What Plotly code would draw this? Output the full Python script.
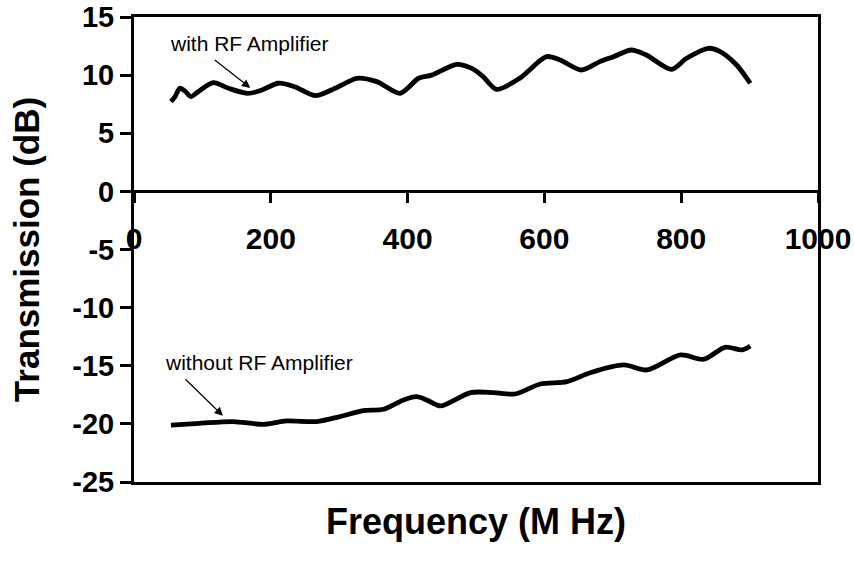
import plotly.graph_objects as go

# With RF amplifier (MHz, dB)
freq_with = [54, 60, 67, 75, 83, 94, 116, 138, 167, 187, 211, 235, 265, 294, 326, 355, 389,
             416, 435, 472, 493, 510, 530, 564, 603, 623, 654, 681, 701, 727, 749, 786, 808,
             840, 857, 881, 901]
trans_with = [7.72, 8.15, 8.87, 8.6, 8.15, 8.58, 9.35, 8.87, 8.43, 8.72, 9.3, 9.0, 8.23, 8.87,
              9.73, 9.44, 8.44, 9.73, 10.0, 10.93, 10.6, 9.9, 8.78, 9.73, 11.59, 11.3, 10.44,
              11.16, 11.59, 12.16, 11.73, 10.5, 11.45, 12.31, 12.02, 10.87, 9.3]

# Without RF amplifier (MHz, dB)
freq_without = [54, 96, 145, 189, 223, 267, 301, 335, 365, 394, 413, 428, 448, 492, 526, 557,
                594, 633, 667, 716, 750, 799, 833, 864, 889, 901]
trans_without = [-20.1, -19.95, -19.8, -20.04, -19.75, -19.8, -19.38, -18.86, -18.74, -17.94,
                 -17.66, -17.94, -18.46, -17.31, -17.31, -17.43, -16.57, -16.37, -15.6, -14.93,
                 -15.36, -14.07, -14.44, -13.41, -13.64, -13.3]

x_ticks = [0, 200, 400, 600, 800, 1000]
y_ticks = [-25, -20, -15, -10, -5, 0, 5, 10, 15]
y_tick_text = ["-25", "-20", "-15", "-10", "-5", "0", "5", "10", "15"]

FONT = "Liberation Sans, Arial, sans-serif"
W, H = 854, 561
pl, pr, pt, pb = 134, 818, 17, 482

fig = go.Figure()
for xs, ys, nm in [(freq_with, trans_with, "with RF Amplifier"),
                   (freq_without, trans_without, "without RF Amplifier")]:
    fig.add_trace(go.Scatter(x=xs, y=ys, mode="lines", name=nm,
                             line=dict(color="black", width=4.8, shape="spline", smoothing=0.8),
                             xaxis="x", yaxis="y"))

# invisible trace so the bottom frame axis is drawn
fig.add_trace(go.Scatter(x=[0, 1000], y=[-25, -25], mode="markers", marker=dict(opacity=0),
                         xaxis="x2", yaxis="y", hoverinfo="skip", showlegend=False))

fig.update_layout(
    width=W, height=H,
    margin=dict(l=pl, r=W - pr, t=pt, b=H - pb, autoexpand=False),
    paper_bgcolor="white", plot_bgcolor="white",
    showlegend=False,
    font=dict(family=FONT, color="black"),
    xaxis=dict(
        range=[0, 1000], tickvals=x_ticks, ticktext=[str(v) for v in x_ticks],
        anchor="free", position=0.625, automargin=False,
        showline=True, linecolor="black", linewidth=3,
        ticks="outside", ticklen=10, tickwidth=3, tickcolor="black",
        tickfont=dict(family=FONT, size=30, weight="bold", color="black"),
        ticklabelstandoff=10,
        showgrid=False, zeroline=False,
    ),
    xaxis2=dict(
        range=[0, 1000], overlaying="x", anchor="y", side="bottom", automargin=False,
        showline=True, mirror=True, linecolor="black", linewidth=3,
        showticklabels=False, ticks="", showgrid=False, zeroline=False,
        title=dict(text="Frequency (M Hz)", font=dict(family=FONT, size=36, weight="bold", color="black"), standoff=25),
    ),
    yaxis=dict(
        range=[-25, 15], tickvals=y_ticks, ticktext=y_tick_text, automargin=False,
        showline=True, mirror=True, linecolor="black", linewidth=3,
        ticks="outside", ticklen=11, tickwidth=3, tickcolor="black",
        tickfont=dict(family=FONT, size=29, weight="bold", color="black"),
        showgrid=False, zeroline=False,
        title=dict(text="Transmission (dB)", font=dict(family=FONT, size=35, weight="bold", color="black"), standoff=23),
    ),
    annotations=[
        dict(x=170, y=8.9, xref="x", yref="y", text="", showarrow=True, ax=-37, ay=-29,
             arrowhead=2, arrowsize=1.4, arrowwidth=1.2, arrowcolor="black"),
        dict(x=130, y=-19.3, xref="x", yref="y", text="", showarrow=True, ax=-39, ay=-38,
             arrowhead=2, arrowsize=1.4, arrowwidth=1.2, arrowcolor="black"),
        dict(x=(168 - pl) / (pr - pl), y=(pb - 43) / (pb - pt), xref="paper", yref="paper",
             text="with RF Amplifier", showarrow=False, xanchor="left", yanchor="middle",
             font=dict(family=FONT, size=21, color="black")),
        dict(x=(163 - pl) / (pr - pl), y=(pb - 362) / (pb - pt), xref="paper", yref="paper",
             text="without RF Amplifier", showarrow=False, xanchor="left", yanchor="middle",
             font=dict(family=FONT, size=21, color="black")),
    ],
)

fig.write_html("out.html", config={"displayModeBar": False},
               post_script="document.body.style.margin='0';")
